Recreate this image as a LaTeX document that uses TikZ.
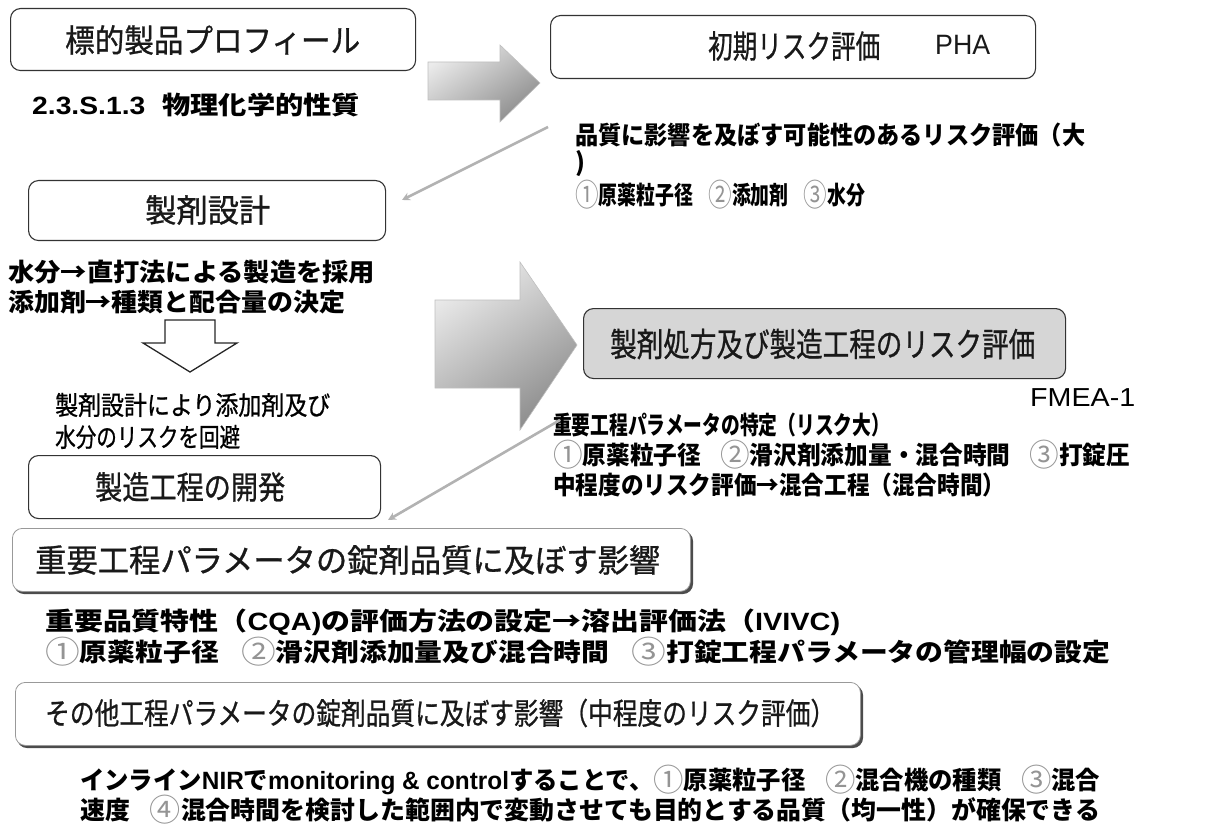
\documentclass[tikz,border=0pt]{standalone}
\usepackage{fontspec}
\setmainfont{Noto Sans CJK JP}
\newfontfamily\lat{Liberation Sans}
\newfontfamily\medjp{Noto Sans CJK JP}[FakeBold=0.9]
\usetikzlibrary{arrows.meta}
\newcommand\fitw[2]{\resizebox{#1pt}{\height}{#2}}
\newcommand\cnum[1]{{\color{black!42}\mdseries\raisebox{-0.08em}{\scalebox{1.25}{#1}}}}
\newcommand\al[1]{{\lat\bfseries #1}}
\begin{document}
\begin{tikzpicture}[x=1pt,y=-1pt,
  stagebox/.style={draw=black!80, line width=1.1pt, rounded corners=10pt, inner sep=0pt, anchor=north west},
  shadowbox/.style={draw=black!40, line width=0.8pt, fill=white, rounded corners=10pt, inner sep=0pt, anchor=north west},
  boxlabel/.style={inner sep=0pt, anchor=west, font=\medjp\fontsize{32}{35}\selectfont, text=black!90},
  bline/.style={inner sep=0pt, anchor=west, font=\bfseries\fontsize{25}{28}\selectfont},
  pline/.style={inner sep=0pt, anchor=west, font=\medjp\fontsize{26}{29}\selectfont},
  thinarrow/.style={draw=black!30, line width=2.6pt, -{Stealth[length=8pt,width=8pt]}},
  blockarrow/.style={top color=black!8, bottom color=black!45, shading angle=35, draw=black!25, line width=0.6pt}
]
\useasboundingbox (0,0) rectangle (1206,834);

% ---- boxes
\node[stagebox, minimum width=405pt, minimum height=62pt] (prof) at (10,8) {};
\node[boxlabel] (proft) at (65,40) {\fitw{295}{標的製品プロフィール}};

\node[stagebox, minimum width=485pt, minimum height=63pt] (pha) at (550,15) {};
\node[boxlabel] (phat) at (708,46) {\fitw{172}{初期リスク評価}};
\node[boxlabel, font=\lat\fontsize{28}{30}\selectfont] (phal) at (935,45) {\fitw{55}{PHA}};

\node[stagebox, minimum width=357pt, minimum height=60pt] (design) at (28,180) {};
\node[boxlabel] (designt) at (145,210) {\fitw{125}{製剤設計}};

\node[stagebox, minimum width=352pt, minimum height=63pt] (dev) at (28,455) {};
\node[boxlabel] (devt) at (95,487) {\fitw{190}{製造工程の開発}};

\node[stagebox, minimum width=482pt, minimum height=70pt, fill=black!16] (fmea) at (583,308) {};
\node[boxlabel, font=\medjp\fontsize{33}{36}\selectfont] (fmeat) at (610,344) {\fitw{425}{製剤処方及び製造工程のリスク評価}};

\fill[black!70, rounded corners=10pt] (14,531) rectangle (693,594);
\node[shadowbox, minimum width=678pt, minimum height=63pt] (cpp) at (12,528) {};
\node[boxlabel, font=\medjp\fontsize{32}{35}\selectfont] (cppt) at (35,560) {\fitw{625}{重要工程パラメータの錠剤品質に及ぼす影響}};

\fill[black!70, rounded corners=10pt] (17,685) rectangle (863,748);
\node[shadowbox, minimum width=845pt, minimum height=63pt] (other) at (15,682) {};
\node[boxlabel, font=\medjp\fontsize{30}{33}\selectfont] (othert) at (45,713) {\fitw{790}{その他工程パラメータの錠剤品質に及ぼす影響（中程度のリスク評価）}};

% ---- texts
\node[bline] (phys) at (32,105) {\fitw{328}{\al{2.3.S.1.3}\hspace{0.6em}物理化学的性質}};

\node[bline] (r1) at (575,135) {\fitw{510}{品質に影響を及ぼす可能性のあるリスク評価（大}};
\node[bline] (r2) at (575,164) {)};
\node[bline] (r3) at (575,195) {\fitw{290}{\cnum{①}原薬粒子径\hspace{0.8em}\cnum{②}添加剤\hspace{0.8em}\cnum{③}水分}};

\node[bline] (d1) at (8,272) {\fitw{367}{水分→直打法による製造を採用}};
\node[bline] (d2) at (8,302) {\fitw{337}{添加剤→種類と配合量の決定}};

\node[pline] (d3) at (55,405) {\fitw{275}{製剤設計により添加剤及び}};
\node[pline] (d4) at (55,437) {\fitw{185}{水分のリスクを回避}};

\node[inner sep=0pt, anchor=west, font=\lat\fontsize{26}{28}\selectfont] (fm) at (1030,398) {\fitw{105}{FMEA-1}};
\node[bline] (f1) at (553,425) {\fitw{337}{重要工程パラメータの特定（リスク大）}};
\node[bline] (f2) at (553,455) {\fitw{577}{\cnum{①}原薬粒子径\hspace{0.8em}\cnum{②}滑沢剤添加量・混合時間\hspace{0.8em}\cnum{③}打錠圧}};
\node[bline] (f3) at (553,485) {\fitw{452}{中程度のリスク評価→混合工程（混合時間）}};

\node[bline] (q1) at (45,622) {\fitw{795}{重要品質特性（\al{CQA)}の評価方法の設定→溶出評価法（\al{IVIVC)}}};
\node[bline] (q2) at (45,652) {\fitw{1065}{\cnum{①}原薬粒子径\hspace{0.8em}\cnum{②}滑沢剤添加量及び混合時間\hspace{0.8em}\cnum{③}打錠工程パラメータの管理幅の設定}};

\node[bline] (n1) at (80,780) {\fitw{1020}{インライン\al{NIR}で\al{monitoring \& control}することで、\cnum{①}原薬粒子径\hspace{0.8em}\cnum{②}混合機の種類\hspace{0.8em}\cnum{③}混合}};
\node[bline] (n2) at (80,810) {\fitw{1020}{速度\hspace{0.8em}\cnum{④}混合時間を検討した範囲内で変動させても目的とする品質（均一性）が確保できる}};

% ---- block arrows
\path[blockarrow] (428,62) -- (500,62) -- (500,45) -- (540,83) -- (500,122) -- (500,100) -- (428,100) -- cycle;
\path[blockarrow] (435,300) -- (520,300) -- (520,262) -- (577,345) -- (520,430) -- (520,388) -- (435,388) -- cycle;

% hollow down arrow
\draw[black!85, line width=1.3pt, line join=miter]
  (165,320) -- (215,320) -- (215,343) -- (237,343) -- (190,372) -- (143,343) -- (165,343) -- cycle;

% ---- thin connectors
\coordinate (t1s) at (548,127);
\coordinate (t1e) at (402,200);
\draw[thinarrow] (t1s) -- (t1e);
\coordinate (t2s) at (560,420);
\coordinate (t2e) at (388,520);
\draw[thinarrow] (t2s) -- (t2e);
\end{tikzpicture}
\end{document}
